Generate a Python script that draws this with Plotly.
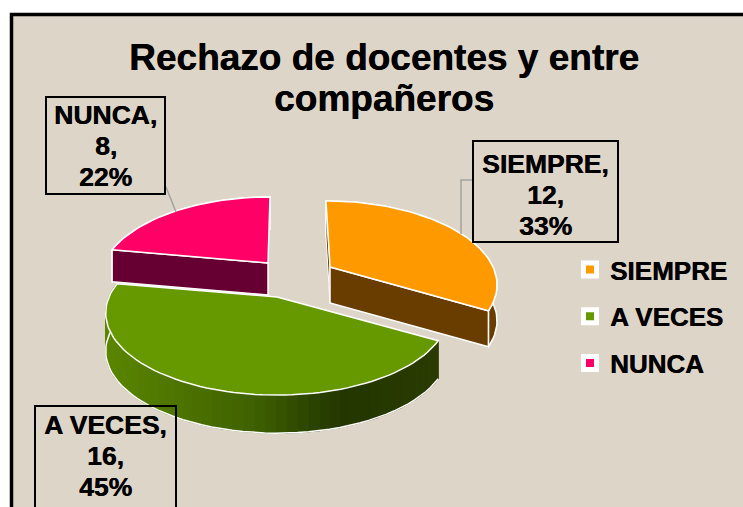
import math
import plotly.graph_objects as go

# ---------- data ----------
categories = ["SIEMPRE", "A VECES", "NUNCA"]
values = [12, 16, 8]
percents = [33, 45, 22]
title_lines = ["Rechazo de docentes y entre", "compañeros"]

# ---------- style ----------
top_colors = ["#ff9900", "#669900", "#ff0066"]
side_colors = ["#693c00", "#3f6000", "#660033"]
bg = "#ddd5c8"
FONT = "Liberation Sans, Arial, sans-serif"
HEAVY = "0.5px 0 0 black"
W, H = 743, 507

# pie projection (a perspective disc seen from above)
B, K = 79, 0.195
radius = [163, 168, 164]
# apex of each exploded slice, wall depth, horizontal lean of far edge
apex = [(330, 267), (277, 297), (268, 263)]
depth = [36, 38, 32]
lean = [4, 0, -2]
draw_order = [2, 0, 1]


def project(i, deg):
    t = math.radians(deg)
    u, v = math.sin(t), -math.cos(t)
    s = 1 / (1 - K * v)
    return apex[i][0] + radius[i] * u * s + lean[i] * v, apex[i][1] + B * v * s


def arc(i, a0, a1, step=2):
    n = max(2, int(abs(a1 - a0) / step) + 1)
    return [project(i, a0 + (a1 - a0) * k / (n - 1)) for k in range(n)]


def poly(pts, fill, line=None, lw=1.5):
    xs = [p[0] for p in pts] + [pts[0][0]]
    ys = [p[1] for p in pts] + [pts[0][1]]
    return go.Scatter(
        x=xs, y=ys, mode="lines", fill="toself", fillcolor=fill,
        line=dict(color=line or fill, width=lw if line else 1.2),
        hoverinfo="skip", showlegend=False,
    )


def down(p, d):
    return (p[0], p[1] + d)


def mix(c1, c2, f):
    return "rgb(%d,%d,%d)" % tuple(round(a + (b - a) * f) for a, b in zip(c1, c2))


GREEN_STOPS = [(105, (90, 134, 0)), (250, (64, 98, 0)), (340, (35, 54, 0)), (440, (42, 60, 0))]


def green_ramp(x):
    for (x0, c0), (x1, c1) in zip(GREEN_STOPS, GREEN_STOPS[1:]):
        if x <= x1:
            return mix(c0, c1, max(0, (x - x0) / (x1 - x0)))
    return mix(GREEN_STOPS[-1][1], GREEN_STOPS[-1][1], 0)


total = sum(values)
angles = []
acc = 0
for v in values:
    angles.append((acc / total * 360, (acc + v) / total * 360))
    acc += v

fig = go.Figure()
for i in draw_order:
    a0, a1 = angles[i]
    d = depth[i]
    c = (apex[i][0], apex[i][1])
    # outer wall
    if i == 1:
        segs = arc(i, a0, min(a1, 285), step=3)
        for p, q in zip(segs, segs[1:]):
            col = green_ramp((p[0] + q[0]) / 2)
            fig.add_trace(poly([p, q, down(q, d), down(p, d)], col))
        low = [down(p, d) for p in segs]
        fig.add_trace(go.Scatter(x=[p[0] for p in low], y=[p[1] for p in low], mode="lines",
                                 line=dict(color="white", width=1.5), hoverinfo="skip", showlegend=False))
    else:
        wall = arc(i, a0, a1)
        fig.add_trace(poly(wall + [down(p, d) for p in reversed(wall)], side_colors[i], "white"))
    # cut faces
    if i == 0:
        s = project(i, a0)
        fig.add_trace(poly([s, c, down(c, d), down(s, d)], side_colors[i], "white", 1))
    if i != 1:
        e = project(i, a1 if i == 0 else a0)
        fig.add_trace(poly([c, e, down(e, d), down(c, d)], side_colors[i], "white"))
    # top surface
    fig.add_trace(poly([c] + arc(i, a0, a1), top_colors[i], "white"))

# legend entries
for name, col in zip(categories, top_colors):
    fig.add_trace(go.Scatter(
        x=[None], y=[None], mode="markers", name=name, legendgroup=name,
        marker=dict(symbol="square", size=13, color=col, line=dict(color="white", width=5)),
    ))

# data labels
label_boxes = [(473, 141, 618, 242), (35, 406, 176, 512), (46, 97, 165, 194)]
label_first_line = [164, 425, 115]
annotations = [dict(x=384, y=98, text=f"<b>{title_lines[1]}</b>", showarrow=False,
                    xref="x", yref="y", font=dict(family=FONT, size=37, color="black", shadow=HEAVY))]
shapes = [dict(type="rect", x0=11.5, y0=14.5, x1=760, y1=530, fillcolor=bg,
               line=dict(color="black", width=3.5), layer="below")]
for box, first, name, val, pct in zip(label_boxes, label_first_line, categories, values, percents):
    x0, y0, x1, y1 = box
    shapes.append(dict(type="rect", x0=x0, y0=y0, x1=x1, y1=y1,
                       line=dict(color="black", width=2), layer="above"))
    for k, line in enumerate([f"{name},", f"{val},", f"{pct}%"]):
        annotations.append(dict(x=(x0 + x1) / 2, y=first + k * 31, text=f"<b>{line}</b>",
                                showarrow=False, xref="x", yref="y",
                                font=dict(family=FONT, size=26.5, color="black", shadow=HEAVY)))
# leader lines
leaders = [[(473, 180), (461, 180), (461, 234)], [(166, 187), (176, 212)]]
for pts in leaders:
    fig.add_trace(go.Scatter(x=[p[0] for p in pts], y=[p[1] for p in pts], mode="lines",
                             line=dict(color="#a3a3a3", width=1.5), hoverinfo="skip", showlegend=False))

fig.update_layout(
    width=W, height=H, margin=dict(l=0, r=0, t=0, b=0),
    paper_bgcolor="white", plot_bgcolor="white",
    xaxis=dict(range=[0, W], visible=False, fixedrange=True),
    yaxis=dict(range=[H, 0], visible=False, fixedrange=True),
    title=dict(text=f"<b>{title_lines[0]}</b>", x=384 / W, xanchor="center", y=1 - 57 / H, yanchor="middle",
               font=dict(family=FONT, size=37, color="black", shadow=HEAVY)),
    legend=dict(x=570 / W, y=1 - 246 / H, xanchor="left", yanchor="top", bgcolor="rgba(0,0,0,0)",
                font=dict(family=FONT, size=26, color="black", weight="bold", shadow=HEAVY),
                tracegroupgap=10, itemwidth=30),
    annotations=annotations, shapes=shapes,
)
fig.write_html("out.html", post_script="document.body.style.margin='0';", config=dict(displayModeBar=False))
